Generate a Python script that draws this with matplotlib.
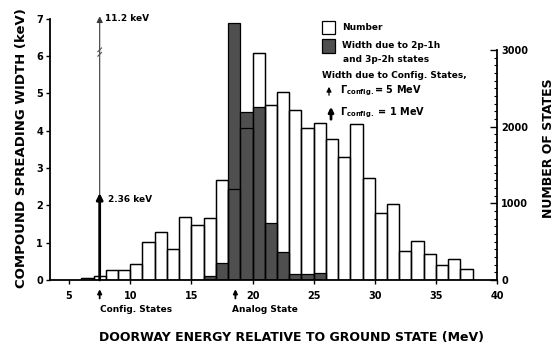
import numpy as np
import matplotlib
matplotlib.use('Agg')
import matplotlib.pyplot as plt
from matplotlib.ticker import FixedLocator
import matplotlib.transforms as mtransforms

# number of doorway states per 1 MeV bin (right axis)
bin_left = np.arange(6, 38)
n_states = [25, 50, 130, 130, 210, 500, 620, 400, 825, 720,
            810, 1310, 1190, 1990, 2960, 2290, 2450, 2220, 1980, 2045,
            1845, 1610, 2030, 1325, 880, 990, 380, 510, 345, 200,
            275, 150]

# spreading width from 2p-1h and 3p-2h states (left axis, keV)
width_left = np.arange(16, 26)
width_kev = [0.1, 0.45, 6.9, 4.5, 4.63, 1.52, 0.75, 0.15, 0.15, 0.2]

# config. states and analog state positions (MeV), widths in keV
config_e = 7.5
analog_e = 18.6
config_w5 = 11.2
config_w1 = 2.36

x_ticks = [5, 10, 15, 20, 25, 30, 35, 40]

plt.rcParams['font.family'] = 'DejaVu Sans'
plt.rcParams['font.weight'] = 'bold'

fig = plt.figure(figsize=(5.56, 3.54), dpi=100)
ax = fig.add_axes([0.090, 0.209, 0.804, 0.743])
axn = ax.twinx()
axo = ax.twinx()
ax.set_zorder(2)
axn.set_zorder(1)
axo.set_zorder(3)
ax.patch.set_visible(False)
axo.patch.set_visible(False)

dark = '#4f4f4f'

# white bars: number of states
axn.bar(bin_left, n_states, width=1.0, align='edge', facecolor='white',
        edgecolor='black', linewidth=0.9)
# dark bars: widths
ax.bar(width_left, width_kev, width=1.0, align='edge', facecolor=dark,
       edgecolor='black', linewidth=0.9)
# outline of number bars on top so the counts show through dark bars
axo.bar(bin_left, n_states, width=1.0, align='edge', fill=False,
        edgecolor='black', linewidth=0.9)

ax.set_xlim(3.44, 40)
ax.set_ylim(0, 7.05)
axn.set_ylim(0, 3432)
axo.set_ylim(0, 3432)
axo.axis('off')

# spines
for s in ['top', 'right']:
    ax.spines[s].set_visible(False)
for s in ['top', 'left', 'bottom']:
    axn.spines[s].set_visible(False)
ax.spines['left'].set_bounds(0, 7)
axn.spines['right'].set_bounds(0, 3000)
ax.spines['left'].set_linewidth(1.3)
ax.spines['bottom'].set_linewidth(1.3)
axn.spines['right'].set_linewidth(1.3)

ax.set_xticks(x_ticks)
ax.set_yticks(range(0, 8))
ax.tick_params(axis='both', labelsize=7, length=3, width=1, pad=2)
ax.tick_params(axis='x', pad=5)
axn.set_yticks([0, 1000, 2000, 3000])
axn.yaxis.set_minor_locator(FixedLocator(np.arange(0, 3001, 100)))
axn.tick_params(axis='y', which='major', direction='in', length=5, width=1,
                labelsize=7, pad=3)
axn.tick_params(axis='y', which='minor', direction='in', length=2.5, width=0.8)

ax.set_xlabel('DOORWAY ENERGY RELATIVE TO GROUND STATE (MeV)', fontsize=9,
              fontweight='bold')
ax.xaxis.set_label_coords(0.54, -0.195)
ax.set_ylabel('COMPOUND SPREADING WIDTH (keV)', fontsize=9.5,
              fontweight='bold', labelpad=6)
axn.set_ylabel('NUMBER OF STATES', fontsize=9, fontweight='bold', labelpad=10)

# config. state arrows
ax.annotate('', xy=(config_e, 7.07), xytext=(config_e, 0),
            arrowprops=dict(arrowstyle='-|>', lw=0.8, color='#3a3a3a',
                            mutation_scale=9, shrinkA=0, shrinkB=0),
            zorder=5, annotation_clip=False)
ax.annotate('', xy=(config_e, 2.33), xytext=(config_e, 0),
            arrowprops=dict(arrowstyle='-|>', lw=2.0, color='black',
                            mutation_scale=9, shrinkA=0, shrinkB=0),
            zorder=6, annotation_clip=False)
# axis break marks on thin arrow
for dy in (0.0, 0.12):
    ax.plot([config_e - 0.15, config_e + 0.15], [6.0 + dy, 6.1 + dy],
            color='#505050', lw=0.8, zorder=6, clip_on=False)
ax.text(config_e + 0.45, 7.0, f'{config_w5} keV', fontsize=6.5,
        fontweight='bold', va='center', ha='left')
ax.text(config_e + 0.7, 2.15, f'{config_w1} keV', fontsize=6.5,
        fontweight='bold', va='center', ha='left')

# little arrows under the axis
trans = mtransforms.blended_transform_factory(ax.transData, ax.transAxes)
for xe in (config_e, analog_e):
    ax.annotate('', xy=(xe, -0.035), xytext=(xe, -0.07), xycoords=trans,
                textcoords=trans, annotation_clip=False,
                arrowprops=dict(arrowstyle='-|>', lw=1.3, color='black',
                                mutation_scale=6, shrinkA=0, shrinkB=0))
ax.text(7.5, -0.095, 'Config. States', transform=trans, fontsize=6.5,
        fontweight='bold', ha='left', va='top')
ax.text(18.3, -0.095, 'Analog State', transform=trans, fontsize=6.5,
        fontweight='bold', ha='left', va='top')

# legend drawn by hand
fx = lambda px: px / 556
fy = lambda py: 1 - py / 354
fig.patches.append(plt.Rectangle((fx(322), fy(34)), 13 / 556, 13 / 354,
                                 transform=fig.transFigure, facecolor='white',
                                 edgecolor='black', lw=0.9))
fig.patches.append(plt.Rectangle((fx(322), fy(53)), 13 / 556, 14 / 354,
                                 transform=fig.transFigure, facecolor=dark,
                                 edgecolor='black', lw=0.9))
fig.text(fx(342), fy(27), 'Number', fontsize=6.5, fontweight='bold', va='center')
fig.text(fx(342), fy(45), 'Width due to 2p-1h', fontsize=6.5,
         fontweight='bold', va='center')
fig.text(fx(343), fy(59), 'and 3p-2h states', fontsize=6.5,
         fontweight='bold', va='center')
fig.text(fx(322), fy(76), 'Width due to Config. States,', fontsize=6.5,
         fontweight='bold', va='center')
fig.patches.append(matplotlib.patches.FancyArrowPatch(
    (fx(329), fy(98)), (fx(329), fy(84)), transform=fig.transFigure,
    arrowstyle='-|>', mutation_scale=7, lw=0.9, color='black'))
fig.patches.append(matplotlib.patches.FancyArrowPatch(
    (fx(331), fy(122)), (fx(331), fy(104)), transform=fig.transFigure,
    arrowstyle='-|>', mutation_scale=7, lw=2.0, color='black'))
fig.text(fx(340), fy(91), r'$\Gamma_{\mathbf{config.}}$= 5 MeV', fontsize=7,
         fontweight='bold', va='center')
fig.text(fx(340), fy(113), r'$\Gamma_{\mathbf{config.}}$ = 1 MeV', fontsize=7,
         fontweight='bold', va='center')

fig.savefig('out.png', dpi=100)
